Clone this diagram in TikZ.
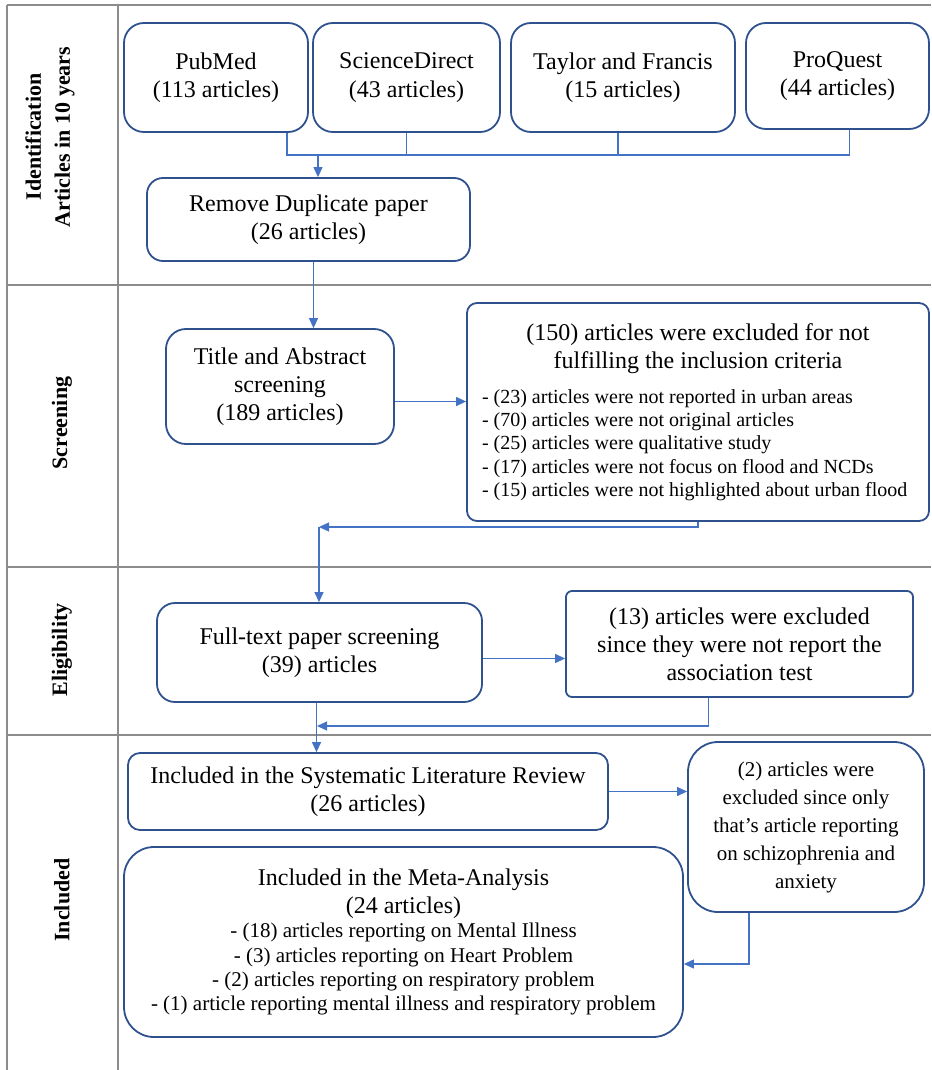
\documentclass[tikz,border=0pt]{standalone}
\usepackage{fontspec}
\setmainfont{Liberation Serif}
\usetikzlibrary{arrows.meta}
\definecolor{boxblue}{HTML}{2F528F}
\definecolor{lineblue}{HTML}{4472C4}
\definecolor{gridgray}{HTML}{8C8C8C}
\tikzstyle{source} = [rectangle, rounded corners=20, minimum height=109, text centered, align=center, draw=boxblue, line width=1.8pt, font=\fontsize{24}{28.5}\selectfont]
\tikzstyle{stage} = [rectangle, rounded corners=16, text centered, align=center, draw=boxblue, line width=1.8pt, font=\fontsize{24}{28}\selectfont]
\tikzstyle{exclude} = [rectangle, text centered, align=center, draw=boxblue, line width=1.8pt, font=\fontsize{24}{28}\selectfont]
\tikzstyle{lane} = [rotate=90, align=center, font=\bfseries\fontsize{22}{29}\selectfont]
\tikzstyle{grid} = [gridgray, line width=1.5pt]
\tikzstyle{line} = [lineblue, line width=1.2pt]
\tikzstyle{arrow} = [lineblue, line width=1.2pt, ->, >={Triangle[length=10pt,width=9pt]}]

\begin{document}
\begin{tikzpicture}[x=1pt,y=-1pt]
\useasboundingbox (0,0) rectangle (931,1070);

% table
\draw [grid] (7,5) -- (931,5);
\draw [grid] (7,285) -- (931,285);
\draw [grid] (7,567) -- (931,567);
\draw [grid] (7,735) -- (931,735);
\draw [grid] (7,5) -- (7,1070);
\draw [grid] (118,5) -- (118,1070);

% lanes
\node (ident) at (50,137) [lane] {Identification\\Articles in 10 years};
\node (screen) at (62,423) [lane] {Screening};
\node (elig) at (62,650) [lane] {Eligibility};
\node (incl) at (62,900) [lane] {Included};

% objects
\node (pubmed) at (216,77.5) [source, minimum width=184] {PubMed\\(113 articles)};
\node (science) at (406.5,77.5) [source, minimum width=187] {ScienceDirect\\(43 articles)};
\node (taylor) at (623,77.5) [source, minimum width=224] {Taylor and Francis\\(15 articles)};
\node (proquest) at (837.5,76) [source, minimum width=183, minimum height=106] {ProQuest\\(44 articles)};

\node (remove) at (308.5,219.5) [stage, minimum width=323, minimum height=83] {Remove Duplicate paper\\(26 articles)};

\node (title) at (280,386.5) [stage, rounded corners=20, minimum width=228, minimum height=115] {Title and Abstract\\screening\\(189 articles)};
\node (excl1) at (698,412) [exclude, rounded corners=10, minimum width=462, minimum height=218] {%
\begin{minipage}{432pt}
\centering (150) articles were excluded for not\\fulfilling the inclusion criteria\par
\vspace{12pt}
\raggedright\fontsize{20}{23.3}\selectfont
- (23) articles were not reported in urban areas\\
- (70) articles were not original articles\\
- (25) articles were qualitative study\\
- (17) articles were not focus on flood and NCDs\\
- (15) articles were not highlighted about urban flood
\end{minipage}};

\node (fulltext) at (319.5,652.5) [stage, rounded corners=18, minimum width=325, minimum height=99] {Full-text paper screening\\(39) articles};
\node (excl2) at (739.5,644) [exclude, rounded corners=6, minimum width=347, minimum height=106] {(13) articles were excluded\\since they were not report the\\association test};

\node (slr) at (368,791.5) [stage, rounded corners=12, minimum width=480, minimum height=77] {Included in the Systematic Literature Review\\(26 articles)};
\node (excl3) at (806,827) [exclude, rounded corners=30, minimum width=236, minimum height=170, font=\fontsize{21}{28}\selectfont] {(2) articles were\\excluded since only\\that’s article reporting\\on schizophrenia and\\anxiety};
\node (meta) at (403.5,942) [stage, rounded corners=30, minimum width=559, minimum height=190] {%
\begin{minipage}{540pt}
\centering Included in the Meta-Analysis\\(24 articles)\par
\fontsize{21}{24.3}\selectfont
- (18) articles reporting on Mental Illness\\
- (3) articles reporting on Heart Problem\\
- (2) articles reporting on respiratory problem\\
- (1) article reporting mental illness and respiratory problem
\end{minipage}};

% arrows
\coordinate (merge) at (318,154);
\draw [line] ([xshift=71]pubmed.south) -- ++(0,22) -| ([xshift=12]proquest.south);
\draw [line] (science.south) -- (science.south |- merge);
\draw [line] ([xshift=-5]taylor.south) -- ([xshift=-5]taylor.south |- merge);
\draw [arrow] (merge) -- (merge |- remove.north);

\draw [arrow] ([xshift=5]remove.south) -- ([xshift=5]remove.south |- title.north);
\draw [arrow] ([yshift=-15]title.east) -- ([yshift=-15]title.east -| excl1.west);

\coordinate (turn1) at (319,527);
\draw [arrow] (excl1.south) |- (turn1);
\draw [arrow] (turn1) -- (turn1 |- fulltext.north);

\draw [arrow] ([yshift=-6]fulltext.east) -- ([yshift=-6]fulltext.east -| excl2.west);
\coordinate (turn2) at (317,726);
\draw [arrow] ([xshift=-31]excl2.south) |- (turn2);
\draw [arrow] ([xshift=-3]fulltext.south) -- ([xshift=-3]fulltext.south |- slr.north);

\draw [arrow] (slr.east) -- (slr.east -| excl3.west);
\draw [arrow] ([xshift=-57]excl3.south) |- ([yshift=-22]meta.east);

\end{tikzpicture}
\end{document}
